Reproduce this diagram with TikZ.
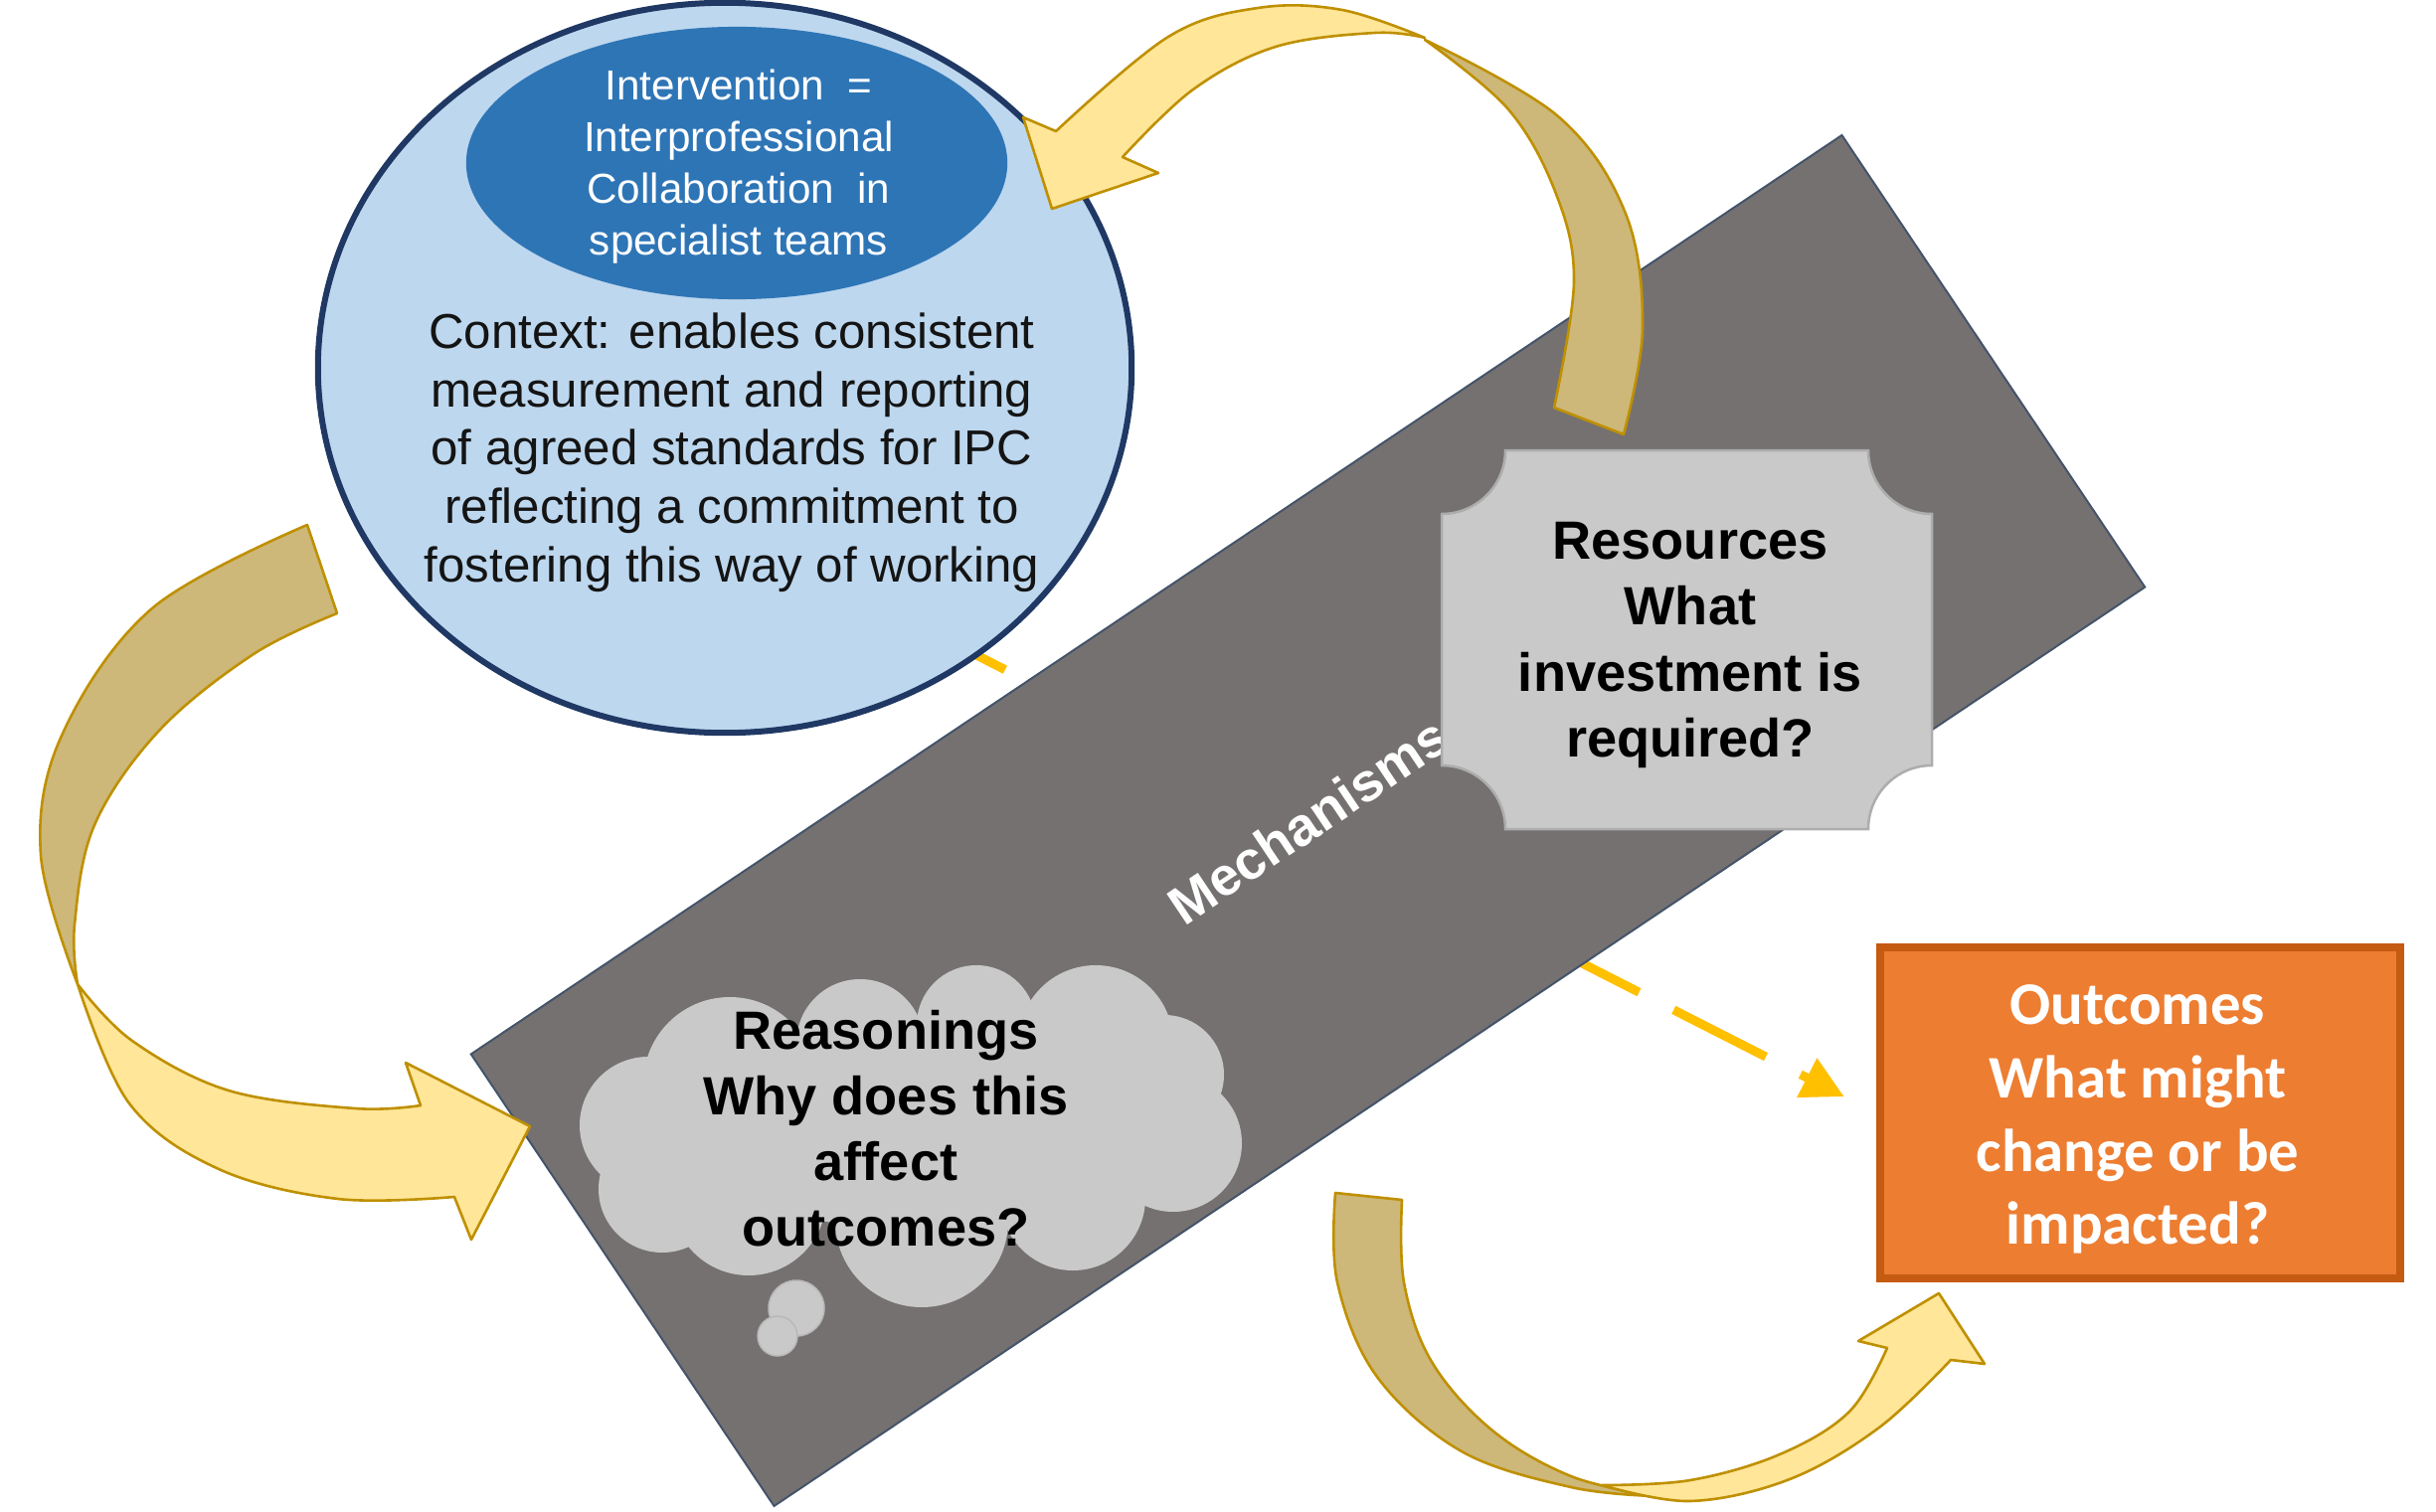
\documentclass[tikz,border=0pt]{standalone}
\usepackage{fontspec}
\setmainfont{Liberation Sans}
\newfontfamily\carl{Carlito}
\usetikzlibrary{shapes.geometric, arrows.meta}

\definecolor{ltblue}{HTML}{BDD7EE}
\definecolor{navy}{HTML}{1F3864}
\definecolor{midblue}{HTML}{2E75B6}
\definecolor{mechgray}{HTML}{767171}
\definecolor{mechedge}{HTML}{44546A}
\definecolor{ltgray}{HTML}{C9C9C9}
\definecolor{ltgrayedge}{HTML}{ADADAD}
\definecolor{yel}{HTML}{FFE699}
\definecolor{khaki}{HTML}{CDB87A}
\definecolor{gold}{HTML}{BF9000}
\definecolor{dashgold}{HTML}{FFC000}
\definecolor{orangefill}{HTML}{ED7D31}
\definecolor{orangeedge}{HTML}{C55A11}

\begin{document}
\begin{tikzpicture}[x=0.01cm, y=-0.01cm,
  ctxell/.style={ellipse, draw=navy, line width=0.06cm, fill=ltblue,
    minimum width=8.18cm, minimum height=7.34cm, inner sep=0pt},
  intvell/.style={ellipse, fill=midblue, minimum width=5.44cm,
    minimum height=2.74cm, inner sep=0pt},
  ctxtxt/.style={font={\fontsize{14}{16.7}\selectfont}, text=black!92,
    align=center, inner sep=0pt},
  intvtxt/.style={font={\fontsize{12}{14.8}\selectfont}, text=white,
    align=center, inner sep=0pt},
  mechrect/.style={rectangle, draw=mechedge, line width=0.02cm, fill=mechgray,
    minimum width=16.59cm, minimum height=5.47cm, inner sep=0pt, rotate=33.84},
  mechtxt/.style={font={\fontsize{15.4}{18.8}\selectfont\bfseries}, text=white,
    rotate=33.84, inner sep=0pt},
  boldtxt/.style={font={\fontsize{15.4}{18.8}\selectfont\bfseries}, text=black,
    align=center, inner sep=0pt},
  plaque/.style={fill=ltgray, draw=ltgrayedge, line width=0.025cm},
  puff/.style={fill=ltgray},
  bubble/.style={fill=ltgray, draw=ltgrayedge!60!ltgray, line width=0.015cm},
  outcbox/.style={rectangle, draw=orangeedge, fill=orangefill, line width=0.08cm,
    minimum width=5.23cm, minimum height=3.33cm, inner sep=0pt},
  outctxt/.style={font={\carl\fontsize{17.3}{21}\selectfont\bfseries}, text=white,
    align=center, inner sep=0pt},
  dashconn/.style={draw=dashgold, line width=0.09cm,
    dash pattern=on 1.04cm off 0.39cm, dash phase=0.89cm, shorten >=0.36cm,
    -{Triangle[length=0.42cm, width=0.42cm]}},
  backband/.style={fill=khaki, draw=gold, line width=0.026cm, line join=round},
  frontband/.style={fill=yel, draw=gold, line width=0.026cm, line join=round}
]
\useasboundingbox (0,0) rectangle (2450,1521);
\fill[white] (0,0) rectangle (2450,1521);

% Outcomes box
\node[outcbox] (outc) at (2152.5,1119.5) {};
\node[outctxt] (outctext) at (2150,1126) {Outcomes\\What might\\change or be\\impacted?};

% dashed connector (behind context and mechanisms)
\coordinate (ds) at (870,602);
\draw[dashconn] (ds) -- (outc.west);

% Context ellipse
\node[ctxell] (ctx) at (729,370) {};
\node[intvell] (intv) at (741,164) {};
\node[intvtxt] (intvtext) at (743,168) {Intervention~ =\\Interprofessional\\Collaboration~ in\\specialist teams};
\node[ctxtxt] (ctxtext) at (736,455) {Context: enables consistent\\measurement and reporting\\of agreed standards for IPC\\reflecting a commitment to\\fostering this way of working};

% Mechanisms band
\node[mechrect] (mech) at (1315.5,825.5) {};
\node[mechtxt] (mechtext) at (mech.center) {Mechanisms};

% Resources plaque
\path[plaque] (1514,453) -- (1879,453) arc[start angle=180, end angle=90, radius=64]
  -- (1943,770) arc[start angle=270, end angle=180, radius=64]
  -- (1514,834) arc[start angle=360, end angle=270, radius=64]
  -- (1450,517) arc[start angle=90, end angle=0, radius=64] -- cycle;
\node[boldtxt] (res) at (1700,649) {Resources\\What\\investment is\\required?};

% Reasonings cloud
\fill[puff] (916,1140) ellipse [x radius=240, y radius=95];
\foreach \cx/\cy/\r in {734/1090/87, 865/1049/64, 982/1031/60, 1102/1049/78,
  1171/1081/60, 1180/1150/69, 1079/1205/73, 927/1228/87, 753/1205/78,
  666/1196/64, 652/1132/69}
  \fill[puff] (\cx,\cy) circle [radius=\r];
\path[bubble] (801,1316) circle [radius=28];
\path[bubble] (782,1344) circle [radius=20];
\node[boldtxt] (rsn) at (891,1135) {Reasonings\\Why does this\\affect\\outcomes?};

% Curved arrow A (resources -> context)
\path[backband] plot[smooth, tension=0.6] coordinates {(1633,437) (1652,330) (1635,215) (1567,117) (1433,40)}
  -- plot[smooth, tension=0.6] coordinates {(1433,40) (1517,110) (1565,195) (1583,283) (1563,410)} -- cycle;
\path[frontband] plot[smooth, tension=0.6] coordinates {(1433,38) (1350,10) (1265,8) (1175,37) (1062,132)}
  -- (1029,118) -- (1058,210) -- (1165,174) -- (1129,158)
  -- plot[smooth, tension=0.6] coordinates {(1129,158) (1200,90) (1283,47) (1383,33) (1433,38)} -- cycle;

% Curved arrow B (context -> mechanisms)
\path[backband] plot[smooth, tension=0.6] coordinates {(309,528) (153,612) (62,740) (41,860) (78,990)}
  -- plot[smooth, tension=0.6] coordinates {(78,990) (75,930) (95,830) (160,735) (255,658) (339,617)} -- cycle;
\path[frontband] plot[smooth, tension=0.6] coordinates {(78,990) (133,1047) (230,1097) (357,1115) (423,1112)}
  -- (408,1069) -- (533,1133) -- (474,1247) -- (457,1204)
  -- plot[smooth, tension=0.6] coordinates {(457,1204) (340,1206) (220,1176) (130,1110) (78,990)} -- cycle;

% Curved arrow C (mechanisms -> outcomes)
\path[backband] plot[smooth, tension=0.6] coordinates {(1343,1200) (1345,1290) (1385,1385) (1470,1460) (1580,1496) (1664,1505)}
  -- plot[smooth, tension=0.6] coordinates {(1664,1505) (1580,1485) (1501,1439) (1440,1370) (1412,1290) (1410,1207)} -- cycle;
\path[frontband] plot[smooth, tension=0.6] coordinates {(1611,1494) (1700,1510) (1800,1488) (1890,1436) (1962,1368)}
  -- (1996,1372) -- (1950,1301) -- (1869,1349) -- (1898,1356)
  -- plot[smooth, tension=0.6] coordinates {(1898,1356) (1860,1420) (1790,1463) (1700,1489) (1611,1494)} -- cycle;
\end{tikzpicture}
\end{document}
